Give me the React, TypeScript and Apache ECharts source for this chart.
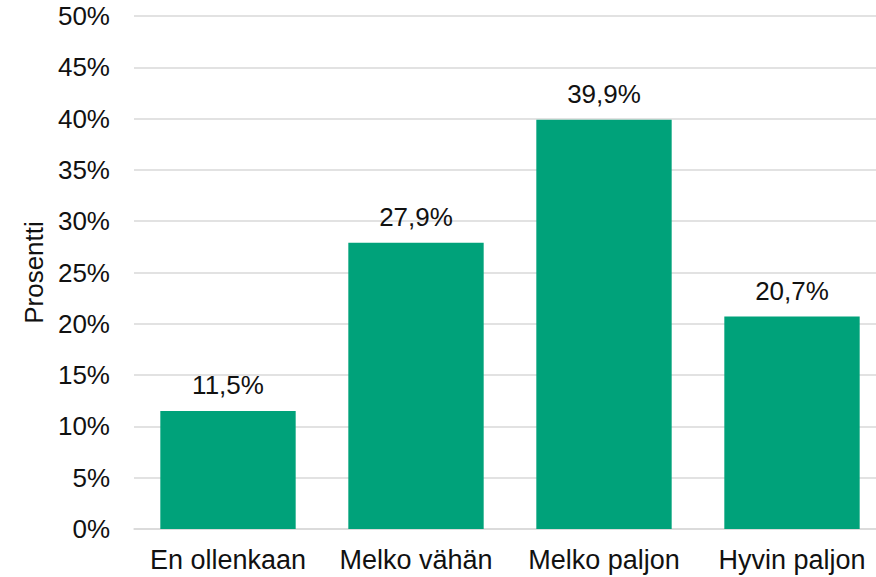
import React, { useEffect, useRef } from "react";
import * as echarts from "echarts";

const categories = ["En ollenkaan", "Melko vähän", "Melko paljon", "Hyvin paljon"];
const values = [11.5, 27.9, 39.9, 20.7];
const yAxisTitle = "Prosentti";
const yMin = 0;
const yMax = 50;
const yStep = 5;

const FONT = "'Liberation Sans', Arial, sans-serif";
const TEXT = "#111111";

export default function App() {
  const ref = useRef<HTMLDivElement>(null);
  useEffect(() => {
    if (!ref.current) return;
    const chart = echarts.init(ref.current, undefined, { renderer: "svg" });
    chart.setOption({
      animation: false,
      backgroundColor: "#ffffff",
      textStyle: { fontFamily: FONT },
      grid: {
        left: 134,
        right: -10,
        top: 16,
        bottom: 48,
        containLabel: false,
        outerBoundsMode: "none",
      },
      xAxis: {
        type: "category",
        data: categories,
        axisTick: { show: false },
        axisLine: { show: true, lineStyle: { color: "#d9d9d9", width: 1.5 } },
        axisLabel: {
          color: TEXT,
          fontSize: 27,
          fontFamily: FONT,
          margin: 17,
          interval: 0,
        },
      },
      yAxis: {
        type: "value",
        min: yMin,
        max: yMax,
        interval: yStep,
        name: yAxisTitle,
        nameLocation: "middle",
        nameRotate: 90,
        nameGap: 84,
        nameTextStyle: { color: TEXT, fontSize: 26, fontFamily: FONT },
        axisLine: { show: false },
        axisTick: { show: false },
        axisLabel: {
          color: TEXT,
          fontSize: 26,
          fontFamily: FONT,
          margin: 24,
          formatter: (v: number) => `${v}%`,
        },
        splitLine: { show: true, lineStyle: { color: "#d9d9d9", width: 1.5 } },
      },
      series: [
        {
          type: "bar",
          data: values,
          barCategoryGap: "28%",
          itemStyle: { color: "#00A27A" },
          label: {
            show: true,
            position: "top",
            distance: 13,
            color: TEXT,
            fontSize: 26,
            fontFamily: FONT,
            formatter: (p: any) => `${String(p.value.toFixed(1)).replace(".", ",")}%`,
          },
        },
      ],
    });
    return () => chart.dispose();
  }, []);
  return (
    <div
      ref={ref}
      style={{ position: "fixed", left: 0, top: 0, width: 876, height: 577, background: "#fff" }}
    />
  );
}
